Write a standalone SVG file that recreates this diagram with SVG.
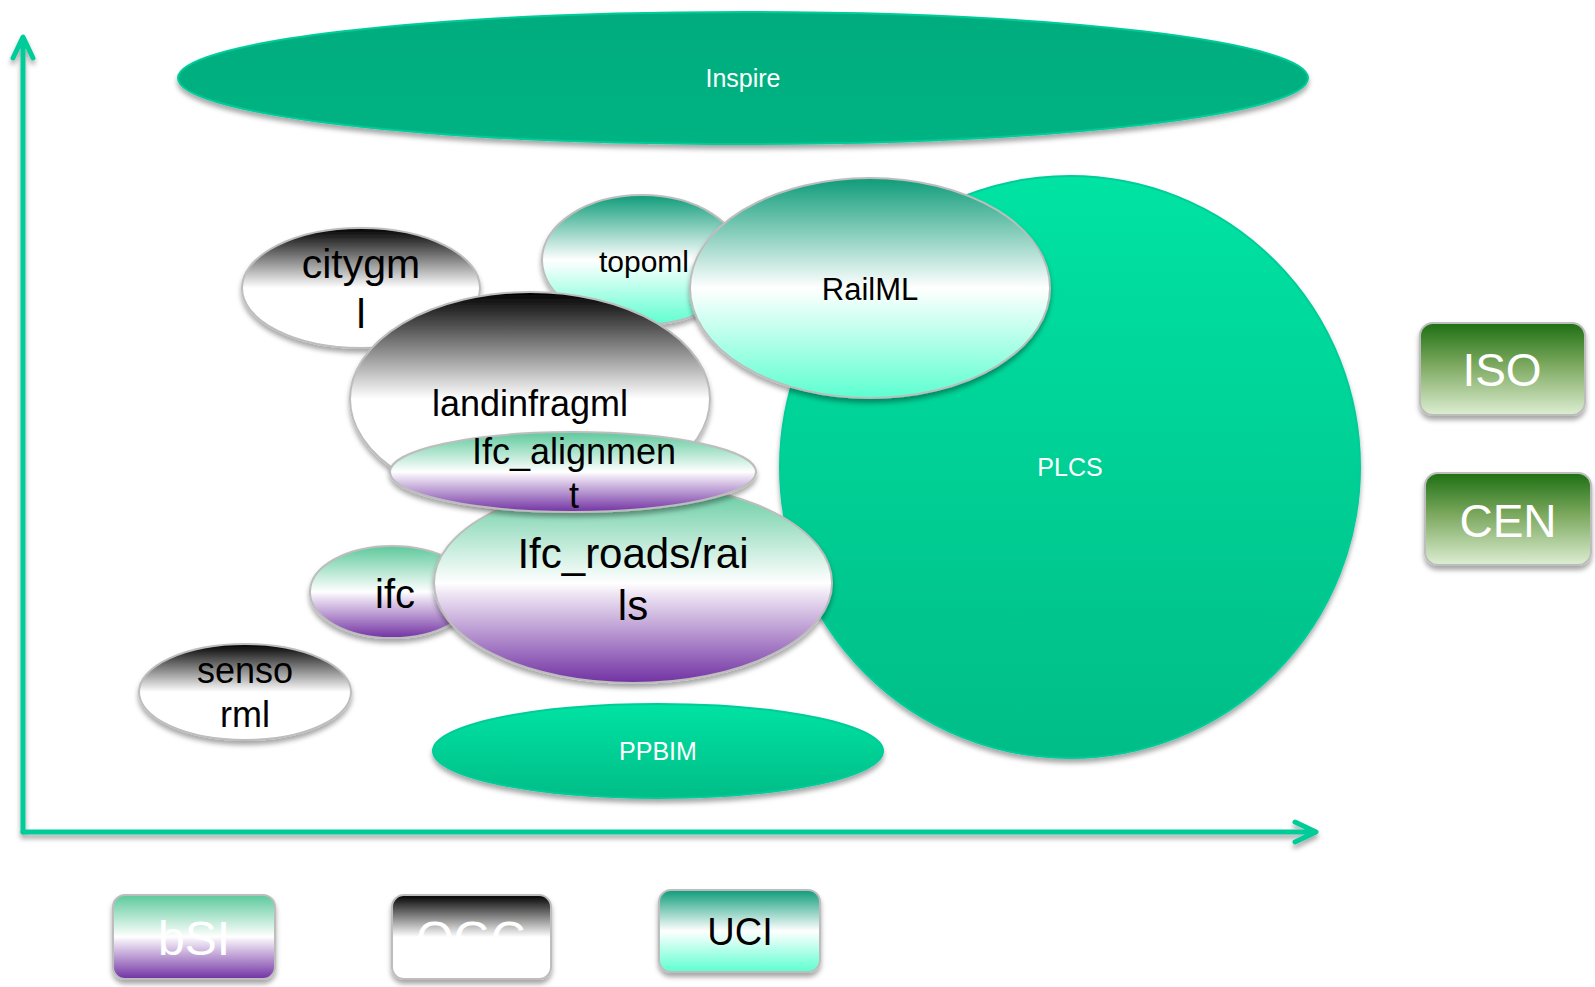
<svg xmlns="http://www.w3.org/2000/svg" width="1595" height="987" viewBox="0 0 1595 987">
<defs>
<filter id="sh" x="-10%" y="-10%" width="120%" height="130%">
<feDropShadow dx="0" dy="4" stdDeviation="2.5" flood-color="#000" flood-opacity="0.35"/>
</filter>
<linearGradient id="gOGC" x1="0" y1="0" x2="0" y2="1">
<stop offset="0" stop-color="#000"/>
<stop offset="0.5" stop-color="#fff"/>
<stop offset="1" stop-color="#fff"/>
</linearGradient>
<linearGradient id="gBSI" x1="0" y1="0" x2="0" y2="1">
<stop offset="0" stop-color="#5CC99B"/>
<stop offset="0.5" stop-color="#fff"/>
<stop offset="0.56" stop-color="#EDE3F3"/>
<stop offset="1" stop-color="#7131A3"/>
</linearGradient>
<linearGradient id="gUCI" x1="0" y1="0" x2="0" y2="1">
<stop offset="0" stop-color="#0E9C79"/>
<stop offset="0.5" stop-color="#fff"/>
<stop offset="1" stop-color="#5CFFD0"/>
</linearGradient>
<linearGradient id="gISO" x1="0" y1="0" x2="0" y2="1">
<stop offset="0" stop-color="#1D6F12"/>
<stop offset="0.45" stop-color="#7BA85E"/>
<stop offset="1" stop-color="#DDEED2"/>
</linearGradient>
<linearGradient id="gPL" x1="0" y1="0" x2="0" y2="1">
<stop offset="0" stop-color="#00E3A3"/>
<stop offset="1" stop-color="#00BD87"/>
</linearGradient>
<linearGradient id="gIN" x1="0" y1="0" x2="0" y2="1">
<stop offset="0" stop-color="#00AC7E"/>
<stop offset="1" stop-color="#00B383"/>
</linearGradient>
</defs>
<style>
.t{font-family:"Liberation Sans",Arial,sans-serif;text-anchor:middle}
.w{fill:#fff}
.k{fill:#000}
.ol{stroke:#BDBDBD;stroke-width:2}
.gl{stroke:#00CC99;stroke-width:2}
.ax{fill:none;stroke:#00CC99;stroke-width:5;stroke-linecap:round;stroke-linejoin:round}
</style>
<g id="connectors" filter="url(#sh)">
<path class="ax" d="M23,832 L23,38 M13,58 L23,37 L33,58"/>
<path class="ax" d="M23,832 L1314,832 M1295,822 L1316,832 L1295,842"/>
</g>
<g id="inspire">
<ellipse cx="743" cy="78" rx="565" ry="66" fill="url(#gIN)" class="gl" filter="url(#sh)"/>
<text class="t w" x="743" y="87" font-size="25">Inspire</text>
</g>
<g id="plcs">
<ellipse cx="1070" cy="467" rx="290" ry="291" fill="url(#gPL)" class="gl" filter="url(#sh)"/>
<text class="t w" x="1070" y="476" font-size="25">PLCS</text>
</g>
<g id="ppbim">
<ellipse cx="658" cy="751" rx="225" ry="47" fill="url(#gPL)" class="gl" filter="url(#sh)"/>
<text class="t w" x="658" y="760" font-size="25">PPBIM</text>
</g>
<g id="citygml">
<ellipse cx="361" cy="288" rx="119" ry="60" fill="url(#gOGC)" class="ol" filter="url(#sh)"/>
<text class="t k" x="361" y="278" font-size="41">citygm</text>
<text class="t k" x="361" y="328" font-size="41">l</text>
</g>
<g id="topoml">
<ellipse cx="642" cy="260" rx="100" ry="65" fill="url(#gUCI)" class="ol" filter="url(#sh)"/>
<text class="t k" x="644" y="272" font-size="30">topoml</text>
</g>
<g id="railml">
<ellipse cx="870" cy="288" rx="180" ry="110" fill="url(#gUCI)" class="ol" filter="url(#sh)"/>
<text class="t k" x="870" y="300" font-size="31">RailML</text>
</g>
<g id="landinfragml">
<ellipse cx="530" cy="399" rx="180" ry="107" fill="url(#gOGC)" class="ol" filter="url(#sh)"/>
<text class="t k" x="530" y="416" font-size="36">landinfragml</text>
</g>
<g id="ifc">
<ellipse cx="392" cy="592" rx="82" ry="46" fill="url(#gBSI)" class="ol" filter="url(#sh)"/>
<text class="t k" x="395" y="608" font-size="40">ifc</text>
</g>
<g id="ifc_roads_rails">
<ellipse cx="633" cy="583" rx="199" ry="100" fill="url(#gBSI)" class="ol" filter="url(#sh)"/>
<text class="t k" x="633" y="568" font-size="42">Ifc_roads/rai</text>
<text class="t k" x="633" y="620" font-size="42">ls</text>
</g>
<g id="ifc_alignment">
<ellipse cx="573" cy="472" rx="183" ry="40" fill="url(#gBSI)" class="ol" filter="url(#sh)"/>
<text class="t k" x="574" y="464" font-size="36">Ifc_alignmen</text>
<text class="t k" x="574" y="508" font-size="36">t</text>
</g>
<g id="sensorml">
<ellipse cx="245" cy="692" rx="106" ry="48" fill="url(#gOGC)" class="ol" filter="url(#sh)"/>
<text class="t k" x="245" y="683" font-size="36">senso</text>
<text class="t k" x="245" y="727" font-size="36">rml</text>
</g>
<g id="bsi">
<rect x="113" y="895" width="162" height="84" rx="12" fill="url(#gBSI)" class="ol" filter="url(#sh)"/>
<text class="t w" x="194" y="955" font-size="48">bSI</text>
</g>
<g id="ogc">
<rect x="392" y="895" width="159" height="84" rx="12" fill="url(#gOGC)" class="ol" filter="url(#sh)"/>
<text class="t w" x="471" y="955" font-size="48">OGC</text>
</g>
<g id="uci">
<rect x="659" y="890" width="161" height="82" rx="12" fill="url(#gUCI)" class="ol" filter="url(#sh)"/>
<text class="t k" x="740" y="945" font-size="38">UCI</text>
</g>
<g id="iso">
<rect x="1420" y="323" width="165" height="92" rx="13" fill="url(#gISO)" class="ol" filter="url(#sh)"/>
<text class="t w" x="1502" y="386" font-size="46">ISO</text>
</g>
<g id="cen">
<rect x="1425" y="473" width="166" height="92" rx="13" fill="url(#gISO)" class="ol" filter="url(#sh)"/>
<text class="t w" x="1508" y="537" font-size="46">CEN</text>
</g>
</svg>
